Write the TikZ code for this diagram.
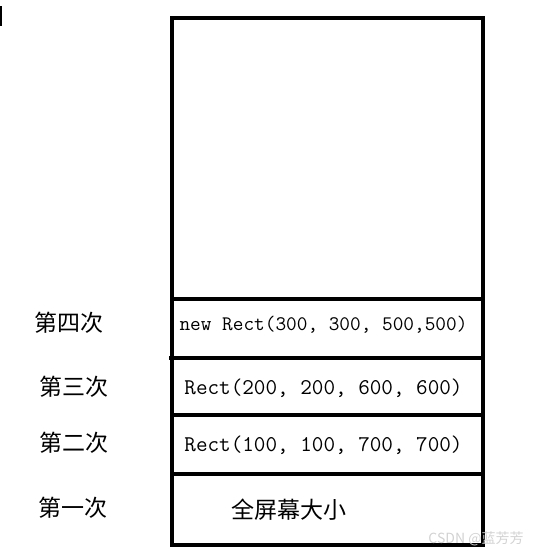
\documentclass[tikz,border=0pt]{standalone}
\usepackage{fontspec}
\newfontfamily\cjk{Noto Sans CJK SC}
\usepackage{tikz}

\begin{document}
\begin{tikzpicture}[x=1pt, y=-1pt, line width=4pt,
  lbl/.style={font=\cjk\fontsize{23}{26}\selectfont, inner sep=0pt},
  code/.style={font=\ttfamily\fontsize{22.5}{26}\selectfont, inner sep=0pt}]
  \useasboundingbox (0,0) rectangle (541,557);

  \draw[line width=2pt] (1,6) -- (1,26);

  % the screen and the four clip areas
  \draw (172,18) rectangle (483,545);
  \draw (172,299) -- (483,299);
  \draw (169,358) -- (483,358);
  \draw (172,415) -- (483,415);
  \draw (172,474) -- (483,474);

  \node[lbl] (L4) at (69,323) {第四次};
  \node[lbl] (L3) at (74,387) {第三次};
  \node[lbl] (L2) at (74,443) {第二次};
  \node[lbl] (L1) at (73,508) {第一次};

  \node[code, font=\ttfamily\fontsize{20.7}{24}\selectfont] (R4) at (323.5,325) {new Rect(300, 300, 500,500)};
  \node[code] (R3) at (323.5,388) {Rect(200, 200, 600, 600)};
  \node[code] (R2) at (323.5,445) {Rect(100, 100, 700, 700)};
  \node[lbl] (R1) at (288.5,510) {全屏幕大小};

  \node[font=\cjk\fontsize{14}{16}\selectfont, text=gray!35, inner sep=0pt] (W) at (476,539) {CSDN @蓝芳芳};
\end{tikzpicture}
\end{document}
